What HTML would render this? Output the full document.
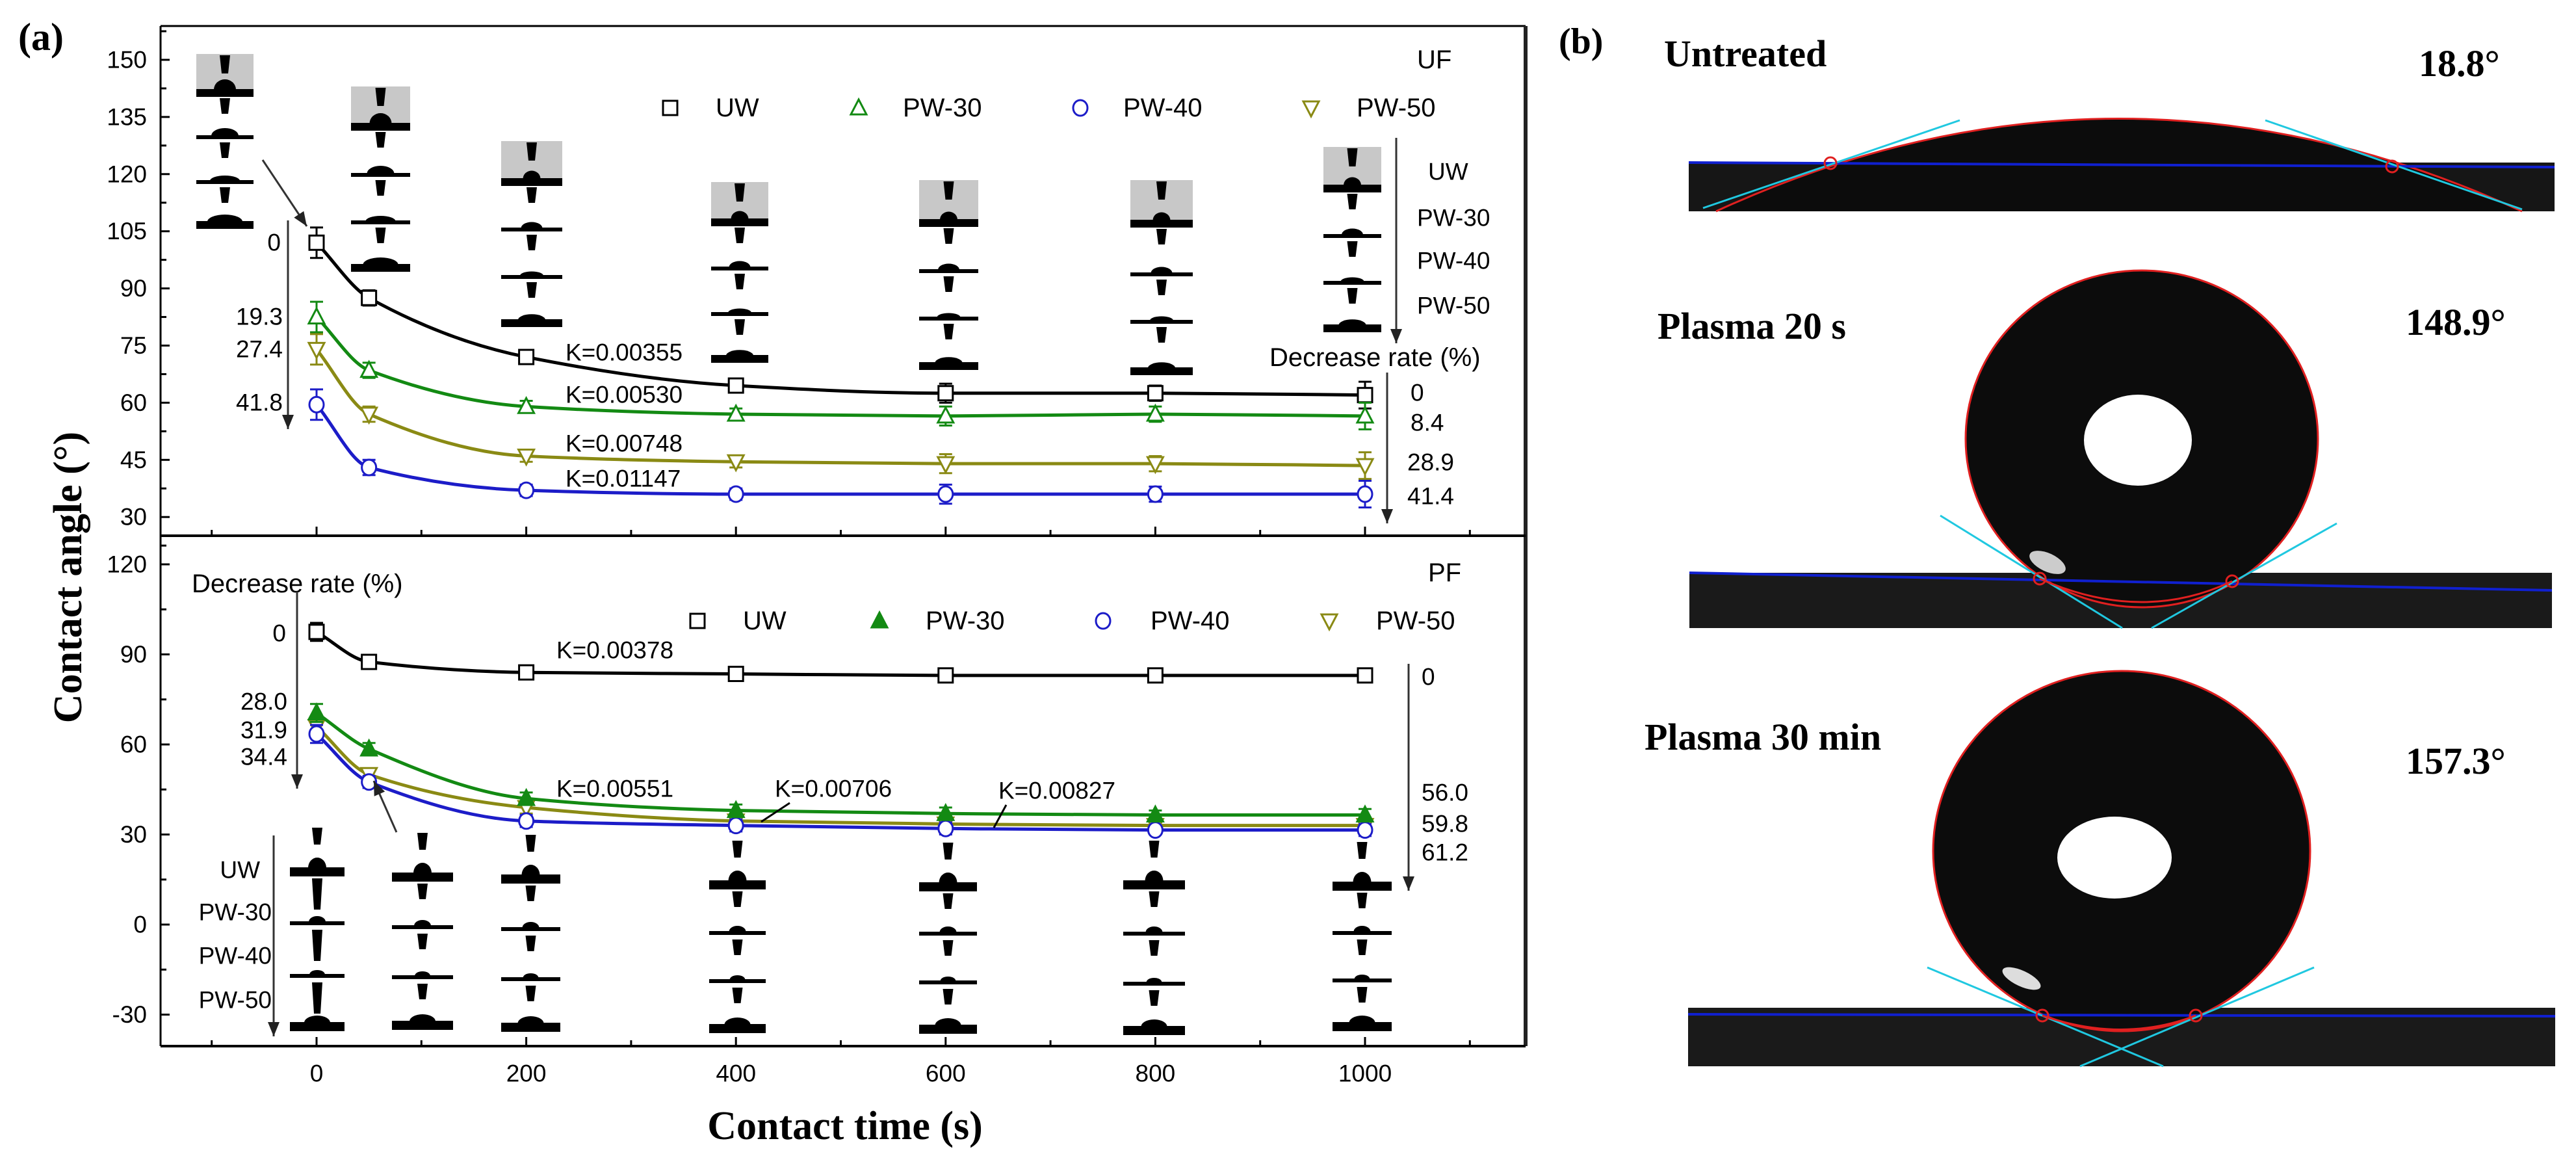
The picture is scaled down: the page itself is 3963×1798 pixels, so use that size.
<!DOCTYPE html>
<html><head><meta charset="utf-8">
<style>
html,body{margin:0;padding:0;background:#fff;}
svg{display:block;}
text{font-family:"Liberation Sans",Arial,sans-serif;}
.serif{font-family:"Liberation Serif","Times New Roman",serif;font-weight:bold;}
</style></head>
<body>
<svg id="fig" width="3963" height="1798" viewBox="0 0 3963 1798" xmlns="http://www.w3.org/2000/svg">
<rect x="0" y="0" width="3963" height="1798" fill="#fff"/>
<g id="chart"></g>
<g id="panelb">
  <text class="serif" x="2398" y="82" font-size="56">(b)</text>
  <text class="serif" x="2560" y="102" font-size="58">Untreated</text>
  <text class="serif" x="3721" y="117" font-size="58">18.8°</text>
  <g>
    <path d="M2598 250 L3930 250 L3930 325 L2598 325 Z" fill="#161616"/>
    <path d="M2640 325 Q3260 40 3880 325 Z" fill="#0c0c0c"/>
    <path d="M2640 325 Q3260 40 3880 325" fill="none" stroke="#e02020" stroke-width="3"/>
    <line x1="2598" y1="250" x2="3930" y2="257" stroke="#1020d0" stroke-width="4"/>
    <line x1="2620" y1="320" x2="3015" y2="185" stroke="#20c8e0" stroke-width="3"/>
    <line x1="3485" y1="185" x2="3880" y2="322" stroke="#20c8e0" stroke-width="3"/>
    <circle cx="2816" cy="251" r="9" fill="none" stroke="#e02020" stroke-width="3"/>
    <circle cx="3680" cy="256" r="9" fill="none" stroke="#e02020" stroke-width="3"/>
  </g>
  <text class="serif" x="2550" y="521" font-size="58">Plasma 20 s</text>
  <text class="serif" x="3701" y="515" font-size="58">148.9°</text>
  <g>
    <rect x="2599" y="881" width="1327" height="85" fill="#1a1a1a"/>
    <ellipse cx="3295" cy="675" rx="271" ry="259" fill="#0c0c0c" stroke="#e02020" stroke-width="3"/>
    <ellipse cx="3289" cy="677" rx="83" ry="70" fill="#fff"/>
    <ellipse cx="3150" cy="865" rx="30" ry="14" fill="#ccc" transform="rotate(25 3150 865)"/>
    <line x1="2599" y1="881" x2="3926" y2="908" stroke="#1020d0" stroke-width="4"/>
    <line x1="2985" y1="793" x2="3265" y2="966" stroke="#20c8e0" stroke-width="3"/>
    <line x1="3310" y1="966" x2="3595" y2="805" stroke="#20c8e0" stroke-width="3"/>
    <path d="M3138 890 Q3295 960 3434 894" fill="none" stroke="#e02020" stroke-width="3"/>
    <circle cx="3138" cy="890" r="9" fill="none" stroke="#e02020" stroke-width="3"/>
    <circle cx="3434" cy="894" r="9" fill="none" stroke="#e02020" stroke-width="3"/>
  </g>
  <text class="serif" x="2530" y="1153" font-size="58">Plasma 30 min</text>
  <text class="serif" x="3701" y="1190" font-size="58">157.3°</text>
  <g>
    <rect x="2597" y="1550" width="1334" height="90" fill="#1a1a1a"/>
    <ellipse cx="3264" cy="1309" rx="290" ry="277" fill="#0c0c0c" stroke="#e02020" stroke-width="3"/>
    <ellipse cx="3253" cy="1319" rx="88" ry="63" fill="#fff"/>
    <ellipse cx="3110" cy="1505" rx="32" ry="12" fill="#ddd" transform="rotate(25 3110 1505)"/>
    <line x1="2597" y1="1560" x2="3931" y2="1563" stroke="#1020d0" stroke-width="4"/>
    <line x1="2965" y1="1488" x2="3328" y2="1640" stroke="#20c8e0" stroke-width="3"/>
    <line x1="3200" y1="1640" x2="3560" y2="1488" stroke="#20c8e0" stroke-width="3"/>
    <path d="M3142 1562 Q3265 1605 3378 1562" fill="none" stroke="#e02020" stroke-width="3"/>
    <circle cx="3142" cy="1562" r="9" fill="none" stroke="#e02020" stroke-width="3"/>
    <circle cx="3378" cy="1562" r="9" fill="none" stroke="#e02020" stroke-width="3"/>
  </g>
</g>
</svg>
<script>
// ---- data ----
const times = [0, 50, 200, 400, 600, 800, 1000];
const seriesNames = ["UW", "PW-30", "PW-40", "PW-50"];
const ufUW   = [102, 87.5, 72, 64.5, 62.5, 62.5, 62];
const ufPW30 = [82.5, 68.5, 59, 57, 56.5, 57, 56.5];
const ufPW40 = [59.5, 43, 37, 36, 36, 36, 36];
const ufPW50 = [74, 57, 46, 44.5, 44, 44, 43.5];
const ufErr  = [4, 2, 1.5, 1.5, 2.5, 2, 3.5];
const pfUW   = [97.5, 87.5, 84, 83.5, 83, 83, 83];
const pfPW30 = [70.5, 58.5, 42, 38, 37, 36.5, 36.5];
const pfPW40 = [63.5, 47.5, 34.5, 33, 32, 31.5, 31.5];
const pfPW50 = [66, 50, 39, 34.5, 33.5, 33, 33];
const pfErr  = [3, 2, 2, 2, 2, 1.5, 2];
const xTicks = [0, 200, 400, 600, 800, 1000];
const ufYTicks = [30, 45, 60, 75, 90, 105, 120, 135, 150];
const pfYTicks = [-30, 0, 30, 60, 90, 120];
const ufK = ["K=0.00355", "K=0.00530", "K=0.00748", "K=0.01147"];
const pfK = ["K=0.00378", "K=0.00551", "K=0.00706", "K=0.00827"];

// ---- scales ----
const X0 = 247, X1 = 2347, TOP = 40, MID = 824, BOT = 1609;
function sx(t){ return 487 + t * 1.613; }
function syU(v){ return 92 + (150 - v) * 5.86; }
function syL(v){ return 868 + (120 - v) * 4.617; }
const colors = ["#000000", "#138a13", "#1c1cc8", "#8a8a14"];

const NS = "http://www.w3.org/2000/svg";
const root = document.getElementById("chart");
function el(tag, attrs, parent){
  const e = document.createElementNS(NS, tag);
  for (const k in attrs) e.setAttribute(k, attrs[k]);
  (parent || root).appendChild(e);
  return e;
}
function txt(x, y, s, size, anchor, parent, cls){
  const t = el("text", {x:x, y:y, "font-size":size, "text-anchor":anchor||"start", "dominant-baseline":"central"}, parent);
  if (cls) t.setAttribute("class", cls);
  t.textContent = s;
  return t;
}
function line(x1,y1,x2,y2,w,c,parent){ return el("line",{x1:x1,y1:y1,x2:x2,y2:y2,stroke:c||"#000","stroke-width":w||3},parent); }
function arrow(x1,y1,x2,y2,parent){
  const g = el("g",{},parent);
  
  
  line(x1,y1,x2,y2,3,"#333",g);
  const a = Math.atan2(y2-y1,x2-x1), L=22, W=9;
  const p = [[x2,y2],[x2-L*Math.cos(a)+W*Math.sin(a), y2-L*Math.sin(a)-W*Math.cos(a)],[x2-L*Math.cos(a)-W*Math.sin(a), y2-L*Math.sin(a)+W*Math.cos(a)]];
  el("polygon",{points:p.map(q=>q.join(",")).join(" "),fill:"#222"},g);
}

// ---- frame ----
const frame = el("g",{});


line(X0,TOP,X1,TOP,3,"#000",frame);
line(X1,TOP,X1,BOT,6,"#222",frame);
line(X0,TOP,X0,BOT,3,"#000",frame);
line(X0,MID,X1,MID,4,"#000",frame);
line(X0,BOT,X1,BOT,4,"#000",frame);

for (let t=-100; t<=1100; t+=100){
  const major = t % 200 === 0;
  line(sx(t), MID, sx(t), MID - (major?14:9), 3, "#000", frame);
  line(sx(t), BOT, sx(t), BOT - (major?14:9), 3, "#000", frame);
}
xTicks.forEach(t=>{
  const l = txt(sx(t), 1651, String(t), 37, "middle");
  
  
});
ufYTicks.forEach(v=>{
  line(X0, syU(v), X0+14, syU(v), 3, "#000", frame);
  line(X0, syU(v-7.5), X0+9, syU(v-7.5), 3, "#000", frame);
  const l = txt(226, syU(v), String(v), 37, "end");
  
  
});
line(X0, syU(157.5), X0+9, syU(157.5), 3, "#000", frame);
pfYTicks.forEach(v=>{
  line(X0, syL(v), X0+14, syL(v), 3, "#000", frame);
  if (v > -30) line(X0, syL(v-15), X0+9, syL(v-15), 3, "#000", frame);
  const l = txt(226, syL(v), String(v), 37, "end");
  
  
});

const yt = el("text",{x:0,y:0,"font-size":62,"text-anchor":"middle","dominant-baseline":"central",transform:"translate(105,888) rotate(-90)","class":"serif"});
yt.textContent = "Contact angle (°)";


const xt = txt(1300, 1732, "Contact time (s)", 62, "middle", null, "serif");


const pa = txt(28, 57, "(a)", 60, "start", null, "serif");



// ---- droplet pictograms ----
const pict = el("g",{});


function needle(cx, y, h){ el("path",{d:`M${cx-8} ${y} L${cx+8} ${y} L${cx+5} ${y+h} L${cx-5} ${y+h} Z`,fill:"#000"},pict); }
function bar(x, w, y, hump, thick){
  const t = thick||5;
  el("rect",{x:x,y:y-t,width:w,height:t*2,fill:"#000"},pict);
  const cx = x + w/2, rx = hump[0], ry = hump[1];
  el("path",{d:`M${cx-rx} ${y-t+1} A${rx} ${ry} 0 0 1 ${cx+rx} ${y-t+1} Z`,fill:"#000"},pict);
}
const ufCols = [[302,88,[83,143,211,280,346]],[540,91,[133,195,269,342,412]],[771,94,[217,280,353,426,497]],[1094,88,[280,342,413,483,552]],[1414,91,[277,343,417,490,563]],[1739,96,[277,344,422,495,571]],[2036,89,[226,290,363,435,505]]];
const ufHumps = [[14,14],[18,10],[20,6],[24,9]];
ufCols.forEach((c,i)=>{
  const [x,w,ys] = c;
  el("rect",{x:x,y:ys[0],width:w,height:ys[1]-ys[0],fill:"#c8c8c8"},pict);
  needle(x+w/2, ys[0]+2, 28);
  for (let k=1;k<5;k++){
    const sc = i<2?1:0.75;
    bar(x, w, ys[k], [ufHumps[k-1][0]*sc+3, ufHumps[k-1][1]*sc+2], k===1||k===4?6:3);
    if (k<4) needle(x+w/2, ys[k]+8, 24);
  }
});
const pfCols = [[446,84,[1341,1420,1501,1579]],[603,94,[1349,1426,1503,1577]],[771,91,[1352,1429,1506,1580]],[1091,87,[1361,1435,1509,1582]],[1414,89,[1364,1436,1511,1583]],[1728,95,[1361,1436,1513,1585]],[2050,91,[1363,1435,1508,1579]]];
const pfHumps = [[14,16],[13,9],[12,7],[20,11]];
pfCols.forEach((c,i)=>{
  const [x,w,ys] = c;
  needle(x+w/2, ys[0]-68, 26);
  for (let k=0;k<4;k++){
    bar(x, w, ys[k], pfHumps[k], k===0||k===3?7:3);
    if (k<3) needle(x+w/2, ys[k]+10, i===0?48:24);
  }
});

// ---- series drawing ----
function monotonePath(xs, ys){
  const n = xs.length, d=[], m=[];
  for (let i=0;i<n-1;i++) d.push((ys[i+1]-ys[i])/(xs[i+1]-xs[i]));
  m[0]=d[0]; m[n-1]=d[n-2];
  for (let i=1;i<n-1;i++) m[i] = (d[i-1]*d[i]<=0)?0:2/(1/d[i-1]+1/d[i]);
  let p = `M${xs[0]} ${ys[0]}`;
  for (let i=0;i<n-1;i++){
    const h = xs[i+1]-xs[i];
    p += ` C${xs[i]+h/3} ${ys[i]+m[i]*h/3} ${xs[i+1]-h/3} ${ys[i+1]-m[i+1]*h/3} ${xs[i+1]} ${ys[i+1]}`;
  }
  return p;
}
function marker(kind, x, y, c, g, filled){
  const r = 11;
  let m;
  if (kind===0) m = el("rect",{x:x-r,y:y-r,width:2*r,height:2*r},g);
  else if (kind===1) m = el("polygon",{points:`${x},${y-r-2} ${x+r+1},${y+r-1} ${x-r-1},${y+r-1}`},g);
  else if (kind===2) m = el("ellipse",{cx:x,cy:y,rx:r,ry:r+1},g);
  else m = el("polygon",{points:`${x},${y+r+2} ${x+r+1},${y-r+1} ${x-r-1},${y-r+1}`},g);
  m.setAttribute("fill", filled?c:"#fff");
  m.setAttribute("stroke", c);
  m.setAttribute("stroke-width", 3);
  return m;
}
function drawSeries(vals, err, sy, idx, name, filled){
  const g = el("g",{});
  
  
  const xs = times.map(sx), ys = vals.map(sy);
  el("path",{d:monotonePath(xs,ys),fill:"none",stroke:colors[idx],"stroke-width":5},g);
  times.forEach((t,i)=>{
    const x = sx(t), y1 = sy(vals[i]+err[i]), y2 = sy(vals[i]-err[i]);
    line(x,y1,x,y2,3,colors[idx],g);
    line(x-10,y1,x+10,y1,3,colors[idx],g);
    line(x-10,y2,x+10,y2,3,colors[idx],g);
    const m = marker(idx, x, sy(vals[i]), colors[idx], g, filled);
    
    
  });
}
drawSeries(ufUW, ufErr, syU, 0, "uf-uw-series");
drawSeries(ufPW30, ufErr, syU, 1, "uf-pw30-series");
drawSeries(ufPW50, ufErr, syU, 3, "uf-pw50-series");
drawSeries(ufPW40, ufErr, syU, 2, "uf-pw40-series");
drawSeries(pfUW, pfErr, syL, 0, "pf-uw-series");
drawSeries(pfPW50, pfErr, syL, 3, "pf-pw50-series");
drawSeries(pfPW40, pfErr, syL, 2, "pf-pw40-series");
drawSeries(pfPW30, pfErr, syL, 1, "pf-pw30-series", true);

// ---- legends ----
function legend(y, symX, txtX, filledIdx, name){
  const g = el("g",{});
  
  
  seriesNames.forEach((s,i)=>{
    const m = marker(i, symX[i], y, colors[i], g, i===filledIdx);
    
    
    const t = txt(txtX[i], y, s, 40, "start", g);
    
    
  });
}
legend(166, [1031,1321,1662,2017], [1101,1389,1728,2087], -1, "uf-legend");
legend(955, [1073,1353,1697,2045], [1143,1424,1770,2117], 1, "pf-legend");

// ---- annotations ----
const ann = el("g",{});


txt(2180, 92, "UF", 40, "start", ann);
txt(2197, 881, "PF", 40, "start", ann);
arrow(2148, 212, 2148, 528, ann);
txt(2197, 264, "UW", 37, "start", ann);
txt(2180, 335, "PW-30", 37, "start", ann);
txt(2180, 401, "PW-40", 37, "start", ann);
txt(2180, 470, "PW-50", 37, "start", ann);
txt(1953, 550, "Decrease rate (%)", 40, "start", ann);
arrow(2134, 573, 2134, 805, ann);
txt(2170, 604, "0", 37, "start", ann);
txt(2170, 650, "8.4", 37, "start", ann);
txt(2165, 711, "28.9", 37, "start", ann);
txt(2165, 763, "41.4", 37, "start", ann);
arrow(443, 339, 443, 660, ann);
txt(432, 373, "0", 37, "end", ann);
txt(435, 487, "19.3", 37, "end", ann);
txt(435, 537, "27.4", 37, "end", ann);
txt(435, 619, "41.8", 37, "end", ann);
arrow(404, 246, 472, 348, ann);
ufK.forEach((k,i)=>{ txt(870, [542,607,682,736][i], k, 37, "start", ann); });
txt(295, 898, "Decrease rate (%)", 40, "start", ann);
arrow(457, 910, 457, 1213, ann);
txt(440, 974, "0", 37, "end", ann);
txt(442, 1079, "28.0", 37, "end", ann);
txt(442, 1123, "31.9", 37, "end", ann);
txt(442, 1164, "34.4", 37, "end", ann);
arrow(610, 1280, 575, 1201, ann);
arrow(421, 1285, 421, 1594, ann);
txt(400, 1338, "UW", 37, "end", ann);
txt(418, 1403, "PW-30", 37, "end", ann);
txt(418, 1470, "PW-40", 37, "end", ann);
txt(418, 1538, "PW-50", 37, "end", ann);
txt(856, 1000, pfK[0], 37, "start", ann);
txt(856, 1213, pfK[1], 37, "start", ann);
txt(1192, 1213, pfK[2], 37, "start", ann);
txt(1536, 1216, pfK[3], 37, "start", ann);
line(1215, 1235, 1171, 1264, 3, "#000", ann);
line(1548, 1238, 1529, 1273, 3, "#000", ann);
arrow(2167, 1021, 2167, 1370, ann);
txt(2187, 1041, "0", 37, "start", ann);
txt(2187, 1219, "56.0", 37, "start", ann);
txt(2187, 1267, "59.8", 37, "start", ann);
txt(2187, 1311, "61.2", 37, "start", ann);
</script>
</body></html>
